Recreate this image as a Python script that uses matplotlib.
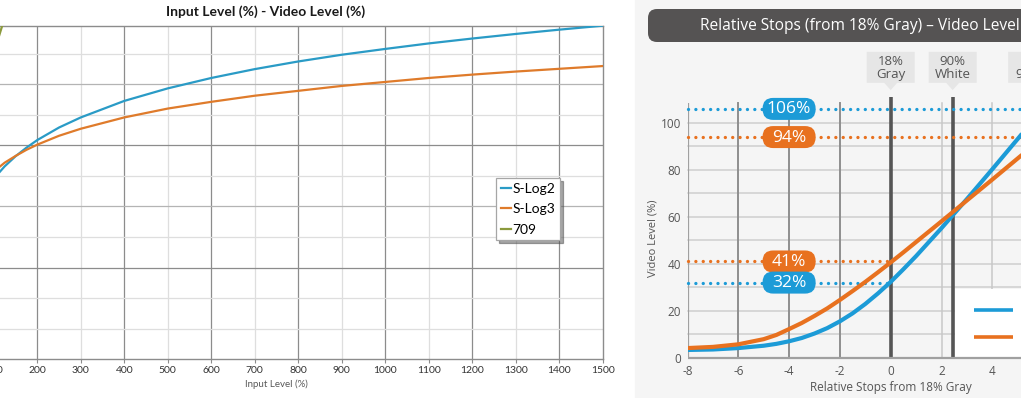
"""Two transfer-curve charts side by side: S-Log2 / S-Log3 / 709."""

import matplotlib
matplotlib.use("Agg")
import matplotlib.pyplot as plt
import matplotlib.transforms as mtransforms
from matplotlib.patches import FancyBboxPatch, Polygon, Rectangle

plt.rcParams["axes.unicode_minus"] = False

# ---- left chart: input level (%) -> video level (%)
input_pct = [0, 50, 100, 125, 150, 175, 200, 250, 300, 400, 500, 600, 700,
             800, 900, 1000, 1100, 1200, 1300, 1400, 1500]
slog2_video = [3.0, 47.0, 59.1, 63.1, 66.4, 69.2, 71.7, 75.8, 79.1, 84.5, 88.6,
               92.0, 94.9, 97.4, 99.6, 101.5, 103.3, 104.9, 106.4, 107.8, 109.1]
slog3_video = [2.5, 52.7, 61.4, 64.3, 66.5, 68.5, 70.2, 73.1, 75.4, 79.1, 82.0,
               84.2, 86.2, 87.8, 89.4, 90.7, 92.0, 93.1, 94.1, 95.0, 95.9]
rec709_input = [0, 50, 100, 110, 120, 125]
rec709_video = [0, 70.5, 100, 104.8, 109.4, 111.6]
left_xticks = list(range(0, 1501, 100))

# ---- right chart: relative stops from 18% gray -> video level (%)
stops = [-8, -7, -6, -5, -4.5, -4, -3.5, -3, -2.5, -2, -1.5, -1, -0.5, 0,
         0.5, 1, 2, 3, 4, 5, 6]
slog2_stops = [3.3, 3.5, 4.1, 5.1, 5.9, 7.0, 8.4, 10.3, 12.6, 15.5, 18.9, 22.9,
               27.4, 32.3, 37.7, 43.3, 55.2, 67.6, 80.3, 93.2, 106.2]
slog3_stops = [4.1, 4.6, 5.7, 7.9, 9.7, 12.2, 14.8, 17.8, 21.0, 24.6, 28.4, 32.3,
               36.4, 40.6, 44.9, 49.3, 58.1, 67.0, 75.9, 84.9, 93.9]
level_values = [106, 94, 41, 32]
level_series = ["S-Log2", "S-Log3", "S-Log3", "S-Log2"]
level_end = [8, 8, 0, 0]
marker_stops = [0, 2.44, 5.57]
marker_labels = ["18%\nGray", "90%\nWhite", "Clip\n900%"]
right_xticks = list(range(-8, 9, 2))

W, H = 1021, 398
fig = plt.figure(figsize=(W / 100, H / 100), dpi=100)
fig.patch.set_facecolor("white")

# ======================= left chart =======================
C_SL2, C_SL3, C_709 = "#2a9bc6", "#df7b2b", "#8b9a3c"
ax1 = fig.add_axes([-49.7 / W, 38.7 / H, 652.4 / W, 333.3 / H])
ax1.set_xlim(0, 1500)
ax1.set_ylim(0, 109)
font_l = ["Lato", "DejaVu Sans"]

for x in left_xticks[1:-1]:
    col = "#8c8c8c" if x % 200 == 0 else "#dedede"
    ax1.axvline(x, color=col, lw=0.9, zorder=1)
for y in range(10, 101, 10):
    if y in (30, 70):
        col = "#8c8c8c"
    elif y in (50, 90):
        col = "#b4b4b4"
    else:
        col = "#dedede"
    ax1.axhline(y, color=col, lw=0.9, zorder=1)

ax1.plot(input_pct, slog2_video, color=C_SL2, lw=1.6, label="S-Log2", zorder=3)
ax1.plot(input_pct, slog3_video, color=C_SL3, lw=1.6, label="S-Log3", zorder=3)
ax1.plot(rec709_input, rec709_video, color=C_709, lw=1.6, label="709", zorder=3)

for side in ("top", "right", "bottom"):
    ax1.spines[side].set_color("#8c8c8c")
    ax1.spines[side].set_linewidth(1.0)
ax1.spines["left"].set_visible(False)
ax1.set_xticks(left_xticks)
ax1.set_yticks([])
ax1.tick_params(axis="x", length=3, color="#8c8c8c", labelsize=7.5,
                labelcolor="#333333", pad=2)
for lab in ax1.get_xticklabels():
    lab.set_family(font_l)
ax1.set_xlabel("Input Level (%)", fontsize=7, color="#595959", labelpad=3,
               family=font_l)

fig.text(266 / W, 1 - 12 / H, "Input Level (%) - Video Level (%)",
         ha="center", va="center", fontsize=10, fontweight="bold",
         color="#1a1a1a", family=font_l)

leg = ax1.legend(loc="upper left", bbox_to_anchor=(496 / W, 1 - 178 / H),
                 bbox_transform=fig.transFigure, borderaxespad=0,
                 handlelength=0.7, handletextpad=0.15, labelspacing=0.6,
                 borderpad=0.35, fancybox=False, shadow=True,
                 prop={"family": font_l, "size": 10})
leg.get_frame().set_edgecolor("#a6a6a6")
leg.get_frame().set_linewidth(0.9)

# ======================= right chart =======================
C_BLUE, C_ORANGE = "#1c9bd7", "#e8711f"
series_col = {"S-Log2": C_BLUE, "S-Log3": C_ORANGE}
font_r = ["Open Sans", "DejaVu Sans"]

fig.patches.append(Rectangle((635 / W, 0), 1 - 635 / W, 1,
                             transform=fig.transFigure, color="#f5f5f5",
                             zorder=-2))
fig.patches.append(FancyBboxPatch((648, H - 42), 500, 33,
                                  boxstyle="round,pad=0,rounding_size=9",
                                  transform=mtransforms.IdentityTransform(),
                                  facecolor="#555353", edgecolor="none",
                                  zorder=-1))
fig.text(700 / W, 1 - 26 / H, "Relative Stops (from 18% Gray) – Video Level",
         ha="left", va="center", fontsize=11.2, color="white", family=font_r)

ax2 = fig.add_axes([687.5 / W, 40.3 / H, 406.4 / W, 328.6 / H])
ax2.set_facecolor("none")
ax2.set_xlim(-8, 8)
ax2.set_ylim(0, 140)
for s in ax2.spines.values():
    s.set_visible(False)

for y in range(10, 101, 10):
    ax2.plot([-8, 8], [y, y], color="#cfcfcf", lw=1.1, zorder=1,
             clip_on=False)
for x in (-6, -4, -2):
    ax2.plot([x, x], [0, 108.5], color="#8f8f8f", lw=1.4, zorder=1.2)
for x in (2, 4):
    ax2.plot([x, x], [0, 108.5], color="#c8c8c8", lw=1.1, zorder=1.2)

# legend panel (labels fall outside the crop)
ax2.add_patch(Rectangle((2.53, 0.3), 6, 29, facecolor="white",
                        edgecolor="none", zorder=2))
ax2.plot([3.29, 4.83], [20.3, 20.3], color=C_BLUE, lw=2.6, zorder=2.5,
         solid_capstyle="butt")
ax2.plot([3.29, 4.83], [8.8, 8.8], color=C_ORANGE, lw=2.6, zorder=2.5,
         solid_capstyle="butt")
ax2.text(5.2, 20.3, "S-Log2", fontsize=9, color="#555555", va="center",
         family=font_r, clip_on=False)
ax2.text(5.2, 8.8, "S-Log3", fontsize=9, color="#555555", va="center",
         family=font_r, clip_on=False)

for x in marker_stops[:2]:
    ax2.plot([x, x], [0, 111], color="#555555", lw=2.6, zorder=2.6,
             solid_capstyle="butt")
ax2.plot([-8, 8], [0, 0], color="#a0a0a0", lw=1.6, zorder=2.7,
         solid_capstyle="butt", clip_on=False)
ax2.plot([-8, -8], [0, 108.5], color="#a0a0a0", lw=1.6, zorder=2.7,
         solid_capstyle="butt")

ax2.plot(stops, slog2_stops, color=C_BLUE, lw=3.0, zorder=4,
         solid_capstyle="butt")
ax2.plot(stops, slog3_stops, color=C_ORANGE, lw=3.0, zorder=4,
         solid_capstyle="butt")

# dotted reference levels with pill labels at -4 stops
for val, ser, x_end in zip(level_values, level_series, level_end):
    col = series_col[ser]
    ax2.plot([-8, x_end], [val, val], color=col, lw=2.4,
             ls=(0, (0.01, 2.2)), dash_capstyle="round", zorder=3,
             clip_on=False)
    tr = fig.dpi_scale_trans + mtransforms.ScaledTranslation(-4, val,
                                                             ax2.transData)
    ax2.add_patch(FancyBboxPatch((-0.265, -0.11), 0.53, 0.22,
                                 boxstyle="round,pad=0,rounding_size=0.105",
                                 transform=tr, facecolor=col,
                                 edgecolor="none", zorder=5, clip_on=False))
    ax2.text(0, -0.005, f"{val}%", transform=tr, ha="center", va="center",
             fontsize=12.5, color="white", family=font_r, zorder=6)

# callouts for 18% gray / 90% white
tip_y = 114
for x, txt in zip(marker_stops, marker_labels):
    tr = fig.dpi_scale_trans + mtransforms.ScaledTranslation(x, tip_y,
                                                             ax2.transData)
    pts = [(0, 0), (-0.065, 0.073), (-0.24, 0.073), (-0.24, 0.383),
           (0.24, 0.383), (0.24, 0.073), (0.065, 0.073)]
    ax2.add_patch(Polygon(pts, closed=True, transform=tr, facecolor="#e6e6e6",
                          edgecolor="none", zorder=5, clip_on=False))
    ax2.text(0, 0.225, txt, transform=tr, ha="center", va="center",
             fontsize=9.5, color="#555555", linespacing=0.98,
             family=font_r, zorder=6)

ax2.set_yticks(range(0, 101, 20))
ax2.set_xticks(right_xticks)
ax2.set_xticklabels([str(v) for v in right_xticks])
ax2.tick_params(length=0, labelsize=8.5, labelcolor="#555555")
ax2.tick_params(axis="y", pad=4.5)
ax2.tick_params(axis="x", pad=5.5)
for lab in ax2.get_xticklabels() + ax2.get_yticklabels():
    lab.set_family(font_r)
ax2.set_xlabel("Relative Stops from 18% Gray", fontsize=8.5, color="#555555",
               labelpad=2, family=font_r)
ax2.set_ylabel("Video Level (%)", fontsize=8, color="#555555", labelpad=6,
               family=font_r)
ax2.yaxis.set_label_coords(-0.071, 100 / 140 / 2 * 1.02)

fig.savefig("out.png", dpi=100)
